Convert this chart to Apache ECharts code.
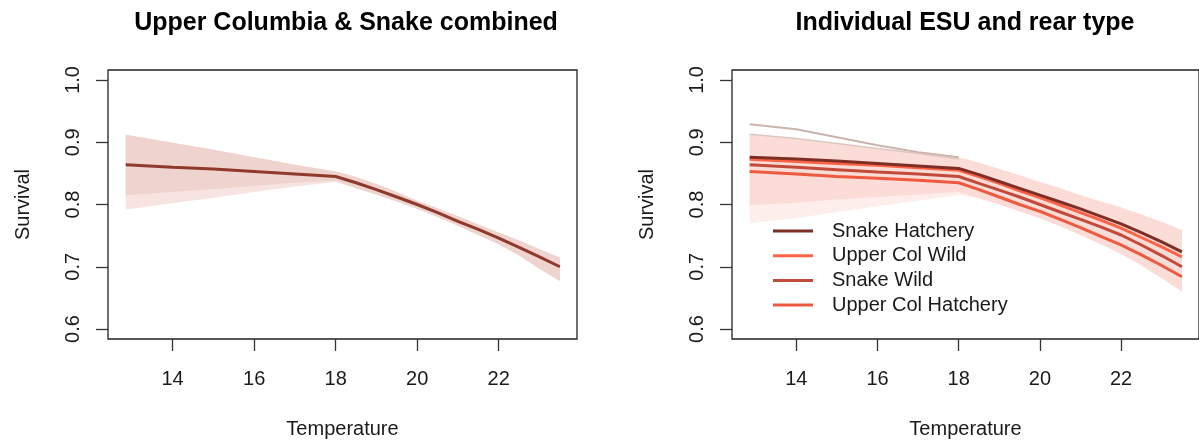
<!DOCTYPE html>
<html>
<head>
<meta charset="utf-8">
<script src="https://cdn.jsdelivr.net/npm/echarts@6/dist/echarts.min.js"></script>
<style>
html,body{margin:0;padding:0;background:#fff;}
#c{width:1199px;height:444px;}
</style>
</head>
<body>
<div id="c"></div>
<script>
// ---- data ----
var temps = [12.85, 14, 15, 16, 17, 18, 18.5, 19, 19.5, 20, 20.5, 21, 21.5, 22, 22.5, 23, 23.5];
var xTicks = [14, 16, 18, 20, 22];
var yTicks = [0.6, 0.7, 0.8, 0.9, 1.0];

// left panel: combined
var combinedMean  = [0.864, 0.860, 0.857, 0.853, 0.849, 0.845, 0.835, 0.824, 0.812, 0.800, 0.787, 0.773, 0.760, 0.746, 0.731, 0.716, 0.700];
var combinedHi    = [0.912, 0.899, 0.888, 0.876, 0.864, 0.853, 0.844, 0.833, 0.820, 0.806, 0.794, 0.781, 0.768, 0.755, 0.742, 0.728, 0.715];
var combinedLo    = [0.815, 0.820, 0.825, 0.830, 0.835, 0.838, 0.826, 0.816, 0.805, 0.793, 0.780, 0.766, 0.751, 0.736, 0.718, 0.697, 0.677];
var combinedOutLo = [0.792, 0.802, 0.811, 0.820, 0.829, 0.836, 0.826, 0.816, 0.805, 0.793, 0.780, 0.766, 0.751, 0.736, 0.718, 0.697, 0.677];

// right panel: individual ESU / rear type
var snakeHatchery  = [0.876, 0.873, 0.870, 0.866, 0.862, 0.858, 0.848, 0.837, 0.826, 0.815, 0.804, 0.793, 0.781, 0.769, 0.755, 0.740, 0.724];
var upperColWild   = [0.8725, 0.869, 0.866, 0.863, 0.859, 0.855, 0.845, 0.834, 0.822, 0.811, 0.799, 0.787, 0.775, 0.762, 0.747, 0.732, 0.716];
var snakeWild      = [0.864, 0.860, 0.856, 0.852, 0.849, 0.845, 0.834, 0.823, 0.812, 0.800, 0.788, 0.776, 0.764, 0.751, 0.735, 0.718, 0.700];
var upperColHatch  = [0.853, 0.849, 0.845, 0.842, 0.839, 0.835, 0.824, 0.812, 0.800, 0.789, 0.776, 0.763, 0.749, 0.735, 0.719, 0.702, 0.684];
var indivHi        = [0.912, 0.905, 0.897, 0.890, 0.882, 0.876, 0.867, 0.857, 0.847, 0.836, 0.826, 0.815, 0.805, 0.795, 0.784, 0.772, 0.759];
var indivLo        = [0.799, 0.803, 0.808, 0.812, 0.816, 0.820, 0.810, 0.800, 0.789, 0.778, 0.765, 0.751, 0.736, 0.721, 0.702, 0.682, 0.660];
var indivOutLo     = [0.770, 0.778, 0.788, 0.797, 0.806, 0.815, 0.810, 0.800, 0.789, 0.778, 0.765, 0.751, 0.736, 0.721, 0.702, 0.682, 0.660];
var grayDraw1      = [0.929, 0.921, 0.908, 0.895, 0.884, 0.876];
var grayDraw2      = [0.913, 0.906, 0.898, 0.890, 0.882, 0.873];

var seriesNames = ['Snake Hatchery', 'Upper Col Wild', 'Snake Wild', 'Upper Col Hatchery'];
var seriesColors = ['#7d2f26', '#ff6347', '#c24a3a', '#ee5a40'];

// ---- helpers ----
function pairs(ys) { return ys.map(function (y, i) { return [temps[i], y]; }); }

var FONT = 'Liberation Sans, Arial, sans-serif';
var TXT = '#1a1a1a';

// band drawn as one polygon through the axis scales (api.coord)
function band(idx, lo, hi, color) {
  var rows = temps.map(function (t, i) { return [t, lo[i], hi[i]]; });
  return {
    type: 'custom', xAxisIndex: idx, yAxisIndex: idx, silent: true, z: 1,
    data: rows, encode: { x: 0, y: [1, 2] },
    renderItem: function (params, api) {
      if (params.dataIndex !== 0) return null;
      var pts = [];
      for (var i = 0; i < rows.length; i++) pts.push(api.coord([rows[i][0], rows[i][2]]));
      for (var j = rows.length - 1; j >= 0; j--) pts.push(api.coord([rows[j][0], rows[j][1]]));
      return { type: 'polygon', shape: { points: pts }, style: { fill: color, stroke: null } };
    }
  };
}

function xAx(idx) {
  return {
    type: 'value', gridIndex: idx, min: 12.415, max: 23.92,
    splitLine: { show: false }, axisLine: { show: false },
    axisTick: { show: true, length: 12, customValues: xTicks, lineStyle: { color: '#333', width: 1.3 } },
    axisLabel: { customValues: xTicks, margin: 30, fontSize: 20, fontFamily: FONT, color: TXT },
    name: 'Temperature', nameLocation: 'middle', nameGap: 80,
    nameTextStyle: { fontSize: 20, fontFamily: FONT, color: TXT }
  };
}
function yAx(idx) {
  return {
    type: 'value', gridIndex: idx, min: 0.584, max: 1.016,
    splitLine: { show: false }, axisLine: { show: false },
    axisTick: { show: true, length: 12, customValues: yTicks, lineStyle: { color: '#333', width: 1.3 } },
    axisLabel: { customValues: yTicks, rotate: 90, margin: 25, fontSize: 20, fontFamily: FONT, color: TXT,
      formatter: function (v) { return v.toFixed(1); } },
    name: 'Survival', nameLocation: 'middle', nameGap: 75,
    nameTextStyle: { fontSize: 20, fontFamily: FONT, color: TXT }
  };
}

var series = [];
// left panel
series.push(band(0, combinedOutLo, combinedHi, '#f7e4e1'));
series.push(band(0, combinedLo, combinedHi, '#efd3ce'));
series.push({ type: 'line', name: 'Combined', xAxisIndex: 0, yAxisIndex: 0, data: pairs(combinedMean),
  symbol: 'none', lineStyle: { color: '#8f3a2c', width: 3 }, z: 5 });
// right panel
series.push(band(1, indivOutLo, indivHi, '#fdeeeb'));
series.push(band(1, indivLo, indivHi, '#fcdcd6'));
series.push({ type: 'line', xAxisIndex: 1, yAxisIndex: 1, data: pairs(grayDraw1), symbol: 'none',
  lineStyle: { color: '#cbb3ae', width: 2 }, silent: true, z: 2 });
series.push({ type: 'line', xAxisIndex: 1, yAxisIndex: 1, data: pairs(grayDraw2), symbol: 'none',
  lineStyle: { color: '#dcc6c2', width: 1.5 }, silent: true, z: 2 });
var rightData = [snakeHatchery, upperColWild, snakeWild, upperColHatch];
[3, 2, 1, 0].forEach(function (k) {
  series.push({ type: 'line', name: seriesNames[k], xAxisIndex: 1, yAxisIndex: 1, data: pairs(rightData[k]),
    symbol: 'none', color: seriesColors[k], lineStyle: { color: seriesColors[k], width: 3 }, z: 5 + (3 - k) });
});

var chart = echarts.init(document.getElementById('c'), null, { renderer: 'canvas' });
chart.setOption({
  animation: false,
  backgroundColor: '#fff',
  title: [
    { text: 'Upper Columbia & Snake combined', left: 341, top: 6, textAlign: 'center',
      textStyle: { fontSize: 25, fontWeight: 'bold', fontFamily: FONT, color: '#000' } },
    { text: 'Individual ESU and rear type', left: 960, top: 6, textAlign: 'center',
      textStyle: { fontSize: 25, fontWeight: 'bold', fontFamily: FONT, color: '#000' } }
  ],
  grid: [
    { left: 108, top: 70, width: 469, height: 271, show: true, borderColor: '#222', borderWidth: 1.3, backgroundColor: 'transparent' },
    { left: 732, top: 70, width: 469, height: 271, show: true, borderColor: '#222', borderWidth: 1.3, backgroundColor: 'transparent' }
  ],
  xAxis: [xAx(0), xAx(1)],
  yAxis: [yAx(0), yAx(1)],
  legend: {
    orient: 'vertical', left: 768, top: 216, itemGap: 4.7,
    itemWidth: 40, itemHeight: 3, icon: 'rect',
    data: seriesNames,
    textStyle: { fontSize: 20, fontFamily: FONT, color: TXT, padding: [0, 0, 0, 14], lineHeight: 20 }
  },
  series: series
});
</script>
</body>
</html>
